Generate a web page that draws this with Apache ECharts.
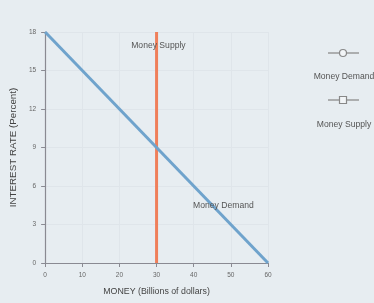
<!DOCTYPE html>
<html><head><meta charset="utf-8">
<script src="https://cdn.jsdelivr.net/npm/echarts@6/dist/echarts.min.js"></script>
<style>html,body{margin:0;padding:0;background:#e7edf1}#c{width:374px;height:303px}</style>
</head><body><div id="c"></div>
<script>
const xTicks = [0, 10, 20, 30, 40, 50, 60];
const yTicks = [0, 3, 6, 9, 12, 15, 18];
const demandMoney = [0, 60];
const demandRate = [18, 0];
const supplyMoney = [30, 30];
const supplyRate = [0, 18];
const seriesNames = ['Money Demand', 'Money Supply'];
const labelDemand = [48, 4.5];
const labelSupply = [30.5, 16.9];

const chart = echarts.init(document.getElementById('c'));
const font = 'Liberation Sans, Arial, sans-serif';
chart.setOption({
  backgroundColor: '#e7edf1',
  animation: false,
  grid: {left: 38, right: 106, top: 32, bottom: 40},
  xAxis: {
    type: 'value', min: 0, max: 60, interval: 10,
    name: 'MONEY (Billions of dollars)', nameLocation: 'middle', nameGap: 24,
    nameTextStyle: {fontFamily: font, fontSize: 8.8, color: '#444'},
    axisLine: {lineStyle: {color: '#8a8a92', width: 1.2}},
    axisTick: {show: true, length: 4, lineStyle: {color: '#8a8a92'}},
    axisLabel: {fontFamily: font, fontSize: 6.5, color: '#666', margin: 9},
    splitLine: {lineStyle: {color: '#dfe5ea'}}
  },
  yAxis: {
    type: 'value', min: 0, max: 18, interval: 3,
    name: 'INTEREST RATE (Percent)', nameLocation: 'middle', nameGap: 27,
    nameTextStyle: {fontFamily: font, fontSize: 9.8, color: '#444'},
    axisLine: {show: true, lineStyle: {color: '#8a8a92', width: 1.2}},
    axisTick: {show: true, length: 4, lineStyle: {color: '#8a8a92'}},
    axisLabel: {fontFamily: font, fontSize: 6.5, color: '#666', margin: 9},
    splitLine: {lineStyle: {color: '#dfe5ea'}}
  },
  series: [
    {name: seriesNames[0], type: 'line', data: demandMoney.map((m, i) => [m, demandRate[i]]),
     symbol: 'none', lineStyle: {color: '#6fa3cc', width: 3}, z: 3,
     markPoint: {symbol: 'rect', symbolSize: 0.1, data: [{coord: labelDemand, label: {show: true, formatter: 'Money Demand', fontFamily: font, fontSize: 8.6, color: '#555', position: 'inside'}}]}},
    {name: seriesNames[1], type: 'line', data: supplyMoney.map((m, i) => [m, supplyRate[i]]),
     symbol: 'none', lineStyle: {color: '#ef7f5a', width: 3}, z: 2,
     markPoint: {symbol: 'rect', symbolSize: 0.1, data: [{coord: labelSupply, label: {show: true, formatter: 'Money Supply', fontFamily: font, fontSize: 8.6, color: '#555', position: 'inside'}}]}}
  ],
  graphic: [
    {type: 'line', shape: {x1: 328, y1: 53, x2: 359, y2: 53}, style: {stroke: '#999', lineWidth: 1.5}},
    {type: 'circle', shape: {cx: 343, cy: 53, r: 3.5}, style: {fill: '#f2f5f7', stroke: '#888', lineWidth: 1.2}},
    {type: 'text', x: 344, y: 77, style: {text: seriesNames[0], fontFamily: font, fontSize: 8.6, fill: '#555', textAlign: 'center', textVerticalAlign: 'middle'}},
    {type: 'line', shape: {x1: 328, y1: 100, x2: 359, y2: 100}, style: {stroke: '#999', lineWidth: 1.5}},
    {type: 'rect', shape: {x: 339.5, y: 96.5, width: 7, height: 7}, style: {fill: '#f2f5f7', stroke: '#888', lineWidth: 1.2}},
    {type: 'text', x: 344, y: 125, style: {text: seriesNames[1], fontFamily: font, fontSize: 8.6, fill: '#555', textAlign: 'center', textVerticalAlign: 'middle'}}
  ]
});
</script></body></html>
